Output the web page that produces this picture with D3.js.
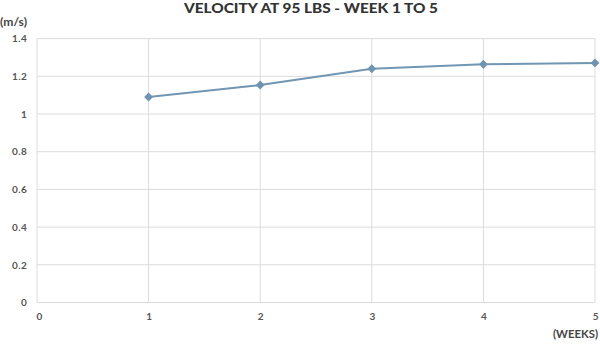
<!DOCTYPE html>
<html><head><meta charset="utf-8">
<script src="https://cdn.jsdelivr.net/npm/d3@7"></script>
<style>body{margin:0;background:#fff}svg{display:block}</style>
</head><body>
<script>
const weeks = [1, 2, 3, 4, 5];
const velocity = [1.09, 1.154, 1.24, 1.264, 1.271];
const xTicks = [0, 1, 2, 3, 4, 5];
const yTicks = [0, 0.2, 0.4, 0.6, 0.8, 1, 1.2, 1.4];
const title = "VELOCITY AT 95 LBS - WEEK 1 TO 5";

const W = 600, H = 344;
const m = {left: 37, right: 5, top: 38.6, bottom: 41.5};
const svg = d3.select("body").append("svg").attr("width", W).attr("height", H);
const x = d3.scaleLinear().domain([0, 5]).range([m.left, W - m.right]);
const y = d3.scaleLinear().domain([0, 1.4]).range([H - m.bottom, m.top]);
const font = "Lato, 'Open Sans', sans-serif";

const g = svg.append("g");
g.selectAll(".hg").data(yTicks).join("line")
  .attr("x1", x(0)).attr("x2", x(5)).attr("y1", d => y(d)).attr("y2", d => y(d))
  .attr("stroke", "#dcdcdc").attr("stroke-width", 1);
g.selectAll(".vg").data(xTicks).join("line")
  .attr("y1", y(0)).attr("y2", y(1.4)).attr("x1", d => x(d)).attr("x2", d => x(d))
  .attr("stroke", "#dcdcdc").attr("stroke-width", 1);

const yAxis = d3.axisLeft(y).tickValues(yTicks).tickSize(0).tickPadding(10).tickFormat(d3.format("~g"));
svg.append("g").attr("transform", `translate(${m.left},0)`).call(yAxis)
  .call(s => s.select(".domain").remove())
  .selectAll("text").attr("font-family", font).attr("font-weight", "bold").attr("font-size", 10).attr("letter-spacing", 0.3).attr("fill", "#555");

const xAxis = d3.axisBottom(x).tickValues(xTicks).tickSize(0).tickPadding(10).tickFormat(d3.format("d"));
svg.append("g").attr("transform", `translate(0,${y(0)})`).call(xAxis)
  .call(s => s.select(".domain").remove())
  .selectAll("text").attr("font-family", font).attr("font-weight", "bold").attr("font-size", 10).attr("fill", "#555")
  .attr("text-anchor", d => d === 0 ? "start" : (d === 5 ? "end" : "middle"))
  .attr("dx", d => d === 0 ? -1 : (d === 5 ? 3 : 0));

const data = weeks.map((w, i) => ({w, v: velocity[i]}));
svg.append("path").datum(data)
  .attr("d", d3.line().x(d => x(d.w)).y(d => y(d.v)))
  .attr("fill", "none").attr("stroke", "#7096b3").attr("stroke-width", 2);
svg.selectAll(".pt").data(data).join("path")
  .attr("transform", d => `translate(${x(d.w)},${y(d.v)})`)
  .attr("d", d3.symbol(d3.symbolDiamond2, 50)())
  .attr("fill", "#6f93b0");

svg.append("text").attr("x", 184).attr("y", 12.5)
  .attr("font-family", font).attr("font-weight", "900").attr("font-size", 13)
  .attr("textLength", 254).attr("lengthAdjust", "spacingAndGlyphs").attr("fill", "#333").text(title);
svg.append("text").attr("x", 0).attr("y", 25.5).attr("font-family", font).attr("font-weight", "bold")
  .attr("font-size", 10.5).attr("fill", "#444").attr("textLength", 27).attr("lengthAdjust", "spacingAndGlyphs").text("(m/s)");
svg.append("text").attr("x", 553).attr("y", 337.5).attr("font-family", font)
  .attr("font-weight", "bold").attr("font-size", 10.5).attr("fill", "#444").attr("textLength", 45).attr("lengthAdjust", "spacingAndGlyphs").text("(WEEKS)");
</script>
</body></html>
